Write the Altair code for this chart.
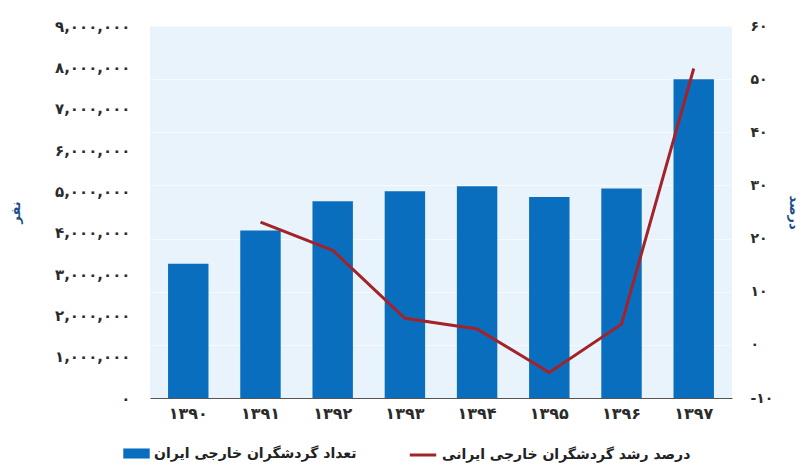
import altair as alt
import pandas as pd

years = ["۱۳۹۰", "۱۳۹۱", "۱۳۹۲", "۱۳۹۳", "۱۳۹۴", "۱۳۹۵", "۱۳۹۶", "۱۳۹۷"]
tourists = [3250000, 4050000, 4760000, 5000000, 5120000, 4860000, 5070000, 7710000]
growth = [None, 23.1, 17.8, 5.0, 3.0, -5.2, 3.9, 52.0]

left_ticks = [0, 1000000, 2000000, 3000000, 4000000, 5000000, 6000000, 7000000, 8000000, 9000000]
left_labels = ["۰", "۱,۰۰۰,۰۰۰", "۲,۰۰۰,۰۰۰", "۳,۰۰۰,۰۰۰", "۴,۰۰۰,۰۰۰",
               "۵,۰۰۰,۰۰۰", "۶,۰۰۰,۰۰۰", "۷,۰۰۰,۰۰۰", "۸,۰۰۰,۰۰۰", "۹,۰۰۰,۰۰۰"]
right_ticks = [-10, 0, 10, 20, 30, 40, 50, 60]
right_labels = ["-۱۰", "۰", "۱۰", "۲۰", "۳۰", "۴۰", "۵۰", "۶۰"]

bar_name = "تعداد گردشگران خارجی ایران"
line_name = "درصد رشد گردشگران خارجی ایرانی"
left_title = "نفر"
right_title = "درصد"

FONT = "DejaVu Sans"
BLUE = "#0a6ebf"
RED = "#a3232a"


def label_map(values, labels):
    items = ", ".join("'%s': '%s'" % (v, l) for v, l in zip(values, labels))
    return "({%s})[datum.value]" % items


df = pd.DataFrame({"year": years, "tourists": tourists, "growth": growth})
df["bar_series"] = bar_name
df["line_series"] = line_name

x = alt.X("year:N", sort=years, title=None,
          scale=alt.Scale(paddingInner=0.44, paddingOuter=0.25),
          axis=alt.Axis(labelAngle=0, labelFont=FONT, labelFontSize=16, labelFontWeight="bold",
                        labelColor="#2b2b2b", labelPadding=7, ticks=False,
                        domainColor="#555555", domainWidth=1))

bars = alt.Chart(df).mark_bar(color=BLUE).encode(
    x=x,
    y=alt.Y("tourists:Q", title=left_title,
            scale=alt.Scale(domain=[0, 9000000], nice=False),
            axis=alt.Axis(values=left_ticks, labelExpr=label_map(left_ticks, left_labels),
                          grid=False, ticks=False, domain=False, labelPadding=20,
                          labelFont=FONT, labelFontSize=15, labelFontWeight="bold",
                          labelColor="#2b2b2b", titleFont=FONT, titleFontSize=13,
                          titleFontWeight="bold", titleColor="#1a4f8a",
                          titleX=-128, titleY=186, titleAngle=-90)),
    fill=alt.Fill("bar_series:N", scale=alt.Scale(domain=[bar_name], range=[BLUE]),
                  legend=alt.Legend(title=None, orient="none", legendX=-27, legendY=414,
                                    symbolType="M-1,-0.38L1,-0.38L1,0.38L-1,0.38Z",
                                    symbolSize=700, symbolStrokeWidth=0, labelLimit=500,
                                    labelFont=FONT, labelFontSize=14, labelFontWeight="bold",
                                    labelColor="#222222", labelOffset=4)),
)

line = alt.Chart(df).transform_filter("datum.growth != null").mark_line(
    color=RED, strokeWidth=3
).encode(
    x=x,
    y=alt.Y("growth:Q", title=right_title,
            scale=alt.Scale(domain=[-10, 60], nice=False),
            axis=alt.Axis(orient="right", values=right_ticks,
                          labelExpr=label_map(right_ticks, right_labels),
                          grid=True, gridColor="#ffffff", gridWidth=1, gridOpacity=0.6,
                          ticks=False, domain=False, labelPadding=18,
                          labelFont=FONT, labelFontSize=14, labelFontWeight="bold",
                          labelColor="#2b2b2b", titleFont=FONT, titleFontSize=13,
                          titleFontWeight="bold", titleColor="#1a4f8a",
                          titleX=54, titleY=186, titleAngle=90)),
    stroke=alt.Stroke("line_series:N", scale=alt.Scale(domain=[line_name], range=[RED]),
                      legend=alt.Legend(title=None, orient="none", legendX=258, legendY=414,
                                        symbolType="stroke", symbolStrokeWidth=3,
                                        symbolSize=700, labelLimit=500,
                                        labelFont=FONT, labelFontSize=14, labelFontWeight="bold",
                                        labelColor="#222222", labelOffset=4)),
)

chart = alt.layer(bars, line).resolve_scale(y="independent").properties(
    width=582, height=372,
    autosize=alt.AutoSizeParams(type="none"),
    padding={"left": 142, "top": 18, "right": 71, "bottom": 69},
).configure_view(fill="#e9f3fb", stroke=None)

chart.save("out.html", embed_options={"renderer": "svg", "actions": False})
